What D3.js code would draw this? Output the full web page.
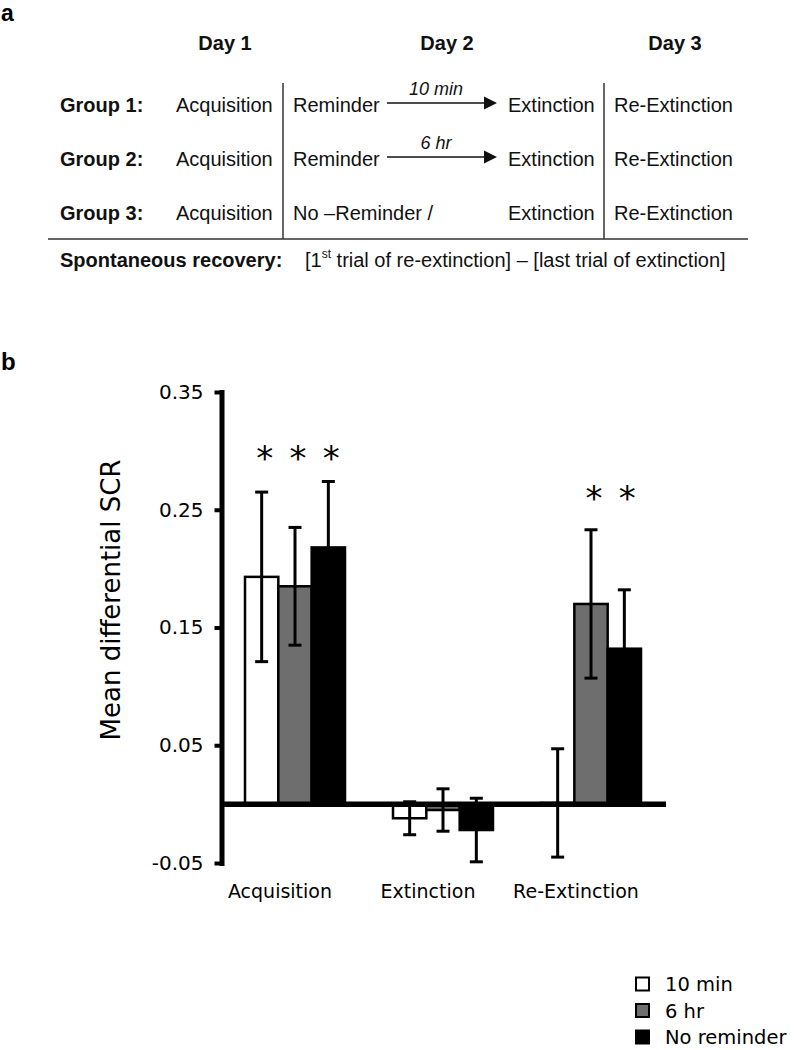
<!DOCTYPE html>
<html>
<head>
<meta charset="utf-8">
<script src="https://cdn.jsdelivr.net/npm/d3@7"></script>
<style>
  html, body { margin: 0; padding: 0; background: #fff; }
  svg { display: block; }
</style>
</head>
<body>
<svg id="chart" width="796" height="1050"></svg>
<script>
// ---------- Panel a: design table ----------
const days = ["Day 1", "Day 2", "Day 3"];
const groupLabels = ["Group 1:", "Group 2:", "Group 3:"];
const day1Text = ["Acquisition", "Acquisition", "Acquisition"];
const day2Start = ["Reminder", "Reminder", "No \u2013Reminder /"];
const delays = ["10 min", "6 hr", null];
const day2End = ["Extinction", "Extinction", "Extinction"];
const day3Text = ["Re-Extinction", "Re-Extinction", "Re-Extinction"];
const recoveryLabel = "Spontaneous recovery:";

// ---------- Panel b: bar chart ----------
const phases = ["Acquisition", "Extinction", "Re-Extinction"];
const series = ["10 min", "6 hr", "No reminder"];
const mean10min = [0.193, -0.012, 0.001];
const mean6hr = [0.185, -0.005, 0.170];
const meanNoRem = [0.218, -0.022, 0.132];
const sem10min = [0.072, 0.014, 0.046];
const sem6hr = [0.050, 0.018, 0.063];
const semNoRem = [0.056, 0.027, 0.050];
const sig10min = [true, false, false];
const sig6hr = [true, false, true];
const sigNoRem = [true, false, true];
const starLevel = [0.302, null, 0.268];
const yTicks = [-0.05, 0.05, 0.15, 0.25, 0.35];
const yLabel = "Mean differential SCR";

const svg = d3.select("#chart");
const fa = "'Liberation Sans', Arial, sans-serif";
const fb = "'DejaVu Sans', Verdana, sans-serif";

// panel letters
svg.append("text").attr("x", 1).attr("y", 21).text("a")
  .attr("font-family", fa).attr("font-weight", "bold").attr("font-size", 23);
svg.append("text").attr("x", 1).attr("y", 370).text("b")
  .attr("font-family", fa).attr("font-weight", "bold").attr("font-size", 24);

// ----- panel a -----
const pa = svg.append("g").attr("font-family", fa).attr("font-size", 20).attr("fill", "#111");
const dayX = d3.scaleOrdinal().domain(days).range([225, 447, 675]);
pa.selectAll("text.day").data(days).join("text").attr("class", "day")
  .attr("x", d => dayX(d)).attr("y", 50).attr("text-anchor", "middle")
  .attr("font-weight", "bold").text(d => d);

const rowY = d3.scalePoint().domain(groupLabels).range([112, 220]);
const rows = pa.selectAll("g.row").data(groupLabels).join("g").attr("class", "row")
  .attr("transform", d => `translate(0,${rowY(d)})`);
rows.append("text").attr("x", 60).attr("font-weight", "bold").text(d => d);
rows.append("text").attr("x", 176).text((d, i) => day1Text[i]);
rows.append("text").attr("x", 293).text((d, i) => day2Start[i]);
rows.append("text").attr("x", 508).text((d, i) => day2End[i]);
rows.append("text").attr("x", 614).text((d, i) => day3Text[i]);

// arrows with delay labels
const arrowRows = rows.filter((d, i) => delays[i] !== null);
arrowRows.append("line").attr("x1", 387).attr("x2", 486).attr("y1", -9).attr("y2", -9)
  .attr("stroke", "#111").attr("stroke-width", 1.6);
arrowRows.append("path").attr("d", "M484,-15.5 L497,-9 L484,-2.5 Z").attr("fill", "#111");
arrowRows.append("text").attr("x", 436).attr("y", -17).attr("text-anchor", "middle")
  .attr("font-style", "italic").attr("font-size", 18)
  .text(function(d) { return delays[groupLabels.indexOf(d)]; });

// table lines
pa.append("line").attr("x1", 283).attr("x2", 283).attr("y1", 83).attr("y2", 239)
  .attr("stroke", "#333").attr("stroke-width", 1.5);
pa.append("line").attr("x1", 604).attr("x2", 604).attr("y1", 83).attr("y2", 239)
  .attr("stroke", "#333").attr("stroke-width", 1.5);
pa.append("line").attr("x1", 48).attr("x2", 748).attr("y1", 239).attr("y2", 239)
  .attr("stroke", "#333").attr("stroke-width", 1.5);

pa.append("text").attr("x", 60).attr("y", 267).attr("font-weight", "bold").text(recoveryLabel);
const rec = pa.append("text").attr("x", 305).attr("y", 267);
rec.append("tspan").text("[1");
rec.append("tspan").attr("font-size", 12).attr("dy", -9).text("st");
rec.append("tspan").attr("dy", 9).text(" trial of re-extinction] \u2013 [last trial of extinction]");

// ----- panel b -----
const x0 = d3.scaleBand().domain(phases).range([222, 666]);
const x1 = d3.scaleBand().domain(series).range([23, 123]);
const y = d3.scaleLinear().domain([-0.05, 0.35]).range([863, 392]);
const color = d3.scaleOrdinal().domain(series).range(["#ffffff", "#6e6e6e", "#000000"]);

const means = [mean10min, mean6hr, meanNoRem];
const sems = [sem10min, sem6hr, semNoRem];
const sigs = [sig10min, sig6hr, sigNoRem];
const data = [];
phases.forEach((p, pi) => series.forEach((s, si) => {
  data.push({ phase: p, series: s, v: means[si][pi], e: sems[si][pi], sig: sigs[si][pi], star: starLevel[pi] });
}));
const cx = d => x0(d.phase) + x1(d.series) + x1.bandwidth() / 2;

const pb = svg.append("g");
// bars
pb.selectAll("rect.bar").data(data).join("rect").attr("class", "bar")
  .attr("x", d => x0(d.phase) + x1(d.series))
  .attr("width", x1.bandwidth())
  .attr("y", d => y(Math.max(0, d.v)))
  .attr("height", d => Math.abs(y(d.v) - y(0)))
  .attr("fill", d => color(d.series))
  .attr("stroke", "#000").attr("stroke-width", 2.5);

// zero line
pb.append("line").attr("x1", 222).attr("x2", 666).attr("y1", y(0)).attr("y2", y(0))
  .attr("stroke", "#000").attr("stroke-width", 5.5);

// error bars
const eb = pb.selectAll("g.err").data(data).join("g").attr("class", "err")
  .attr("stroke", "#000").attr("stroke-width", 3);
eb.append("line").attr("x1", cx).attr("x2", cx)
  .attr("y1", d => y(d.v + d.e)).attr("y2", d => y(d.v - d.e));
eb.append("line").attr("x1", d => cx(d) - 6.5).attr("x2", d => cx(d) + 6.5)
  .attr("y1", d => y(d.v + d.e)).attr("y2", d => y(d.v + d.e));
eb.append("line").attr("x1", d => cx(d) - 6.5).attr("x2", d => cx(d) + 6.5)
  .attr("y1", d => y(d.v - d.e)).attr("y2", d => y(d.v - d.e));

// significance stars
pb.selectAll("text.star").data(data.filter(d => d.sig)).join("text").attr("class", "star")
  .attr("x", d => cx(d) + 3).attr("y", d => y(d.star)).attr("dy", "0.64em")
  .attr("text-anchor", "middle").attr("font-family", fb).attr("font-size", 34)
  .text("*");

// y axis
const yAxis = pb.append("g").attr("transform", "translate(221.5,0)")
  .call(d3.axisLeft(y).tickValues(yTicks).tickFormat(d => d.toFixed(2))
    .tickSize(7).tickPadding(11).tickSizeOuter(0));
yAxis.select(".domain").attr("stroke-width", 5).attr("stroke-linecap", "square");
yAxis.selectAll(".tick line").attr("stroke-width", 4);
yAxis.selectAll(".tick text").attr("font-family", fb).attr("font-size", 20).attr("fill", "#000");

// y label
pb.append("text").attr("transform", "translate(120,600) rotate(-90)")
  .attr("text-anchor", "middle").attr("font-family", fb).attr("font-size", 26)
  .text(yLabel);

// x category labels
pb.selectAll("text.cat").data(phases).join("text").attr("class", "cat")
  .attr("x", d => x0(d) + x0.bandwidth() / 2 - 16).attr("y", 898)
  .attr("text-anchor", "middle").attr("font-family", fb).attr("font-size", 19)
  .text(d => d);

// legend
const legY = d3.scalePoint().domain(series).range([984, 1037]);
const leg = svg.append("g").selectAll("g").data(series).join("g")
  .attr("transform", d => `translate(636,${legY(d)})`);
leg.append("rect").attr("x", 0).attr("y", -6.5).attr("width", 13).attr("height", 13)
  .attr("fill", d => color(d)).attr("stroke", "#000").attr("stroke-width", 2);
leg.append("text").attr("x", 29).attr("dy", "0.36em").attr("font-family", fb)
  .attr("font-size", 19.5).text(d => d);
</script>
</body>
</html>
